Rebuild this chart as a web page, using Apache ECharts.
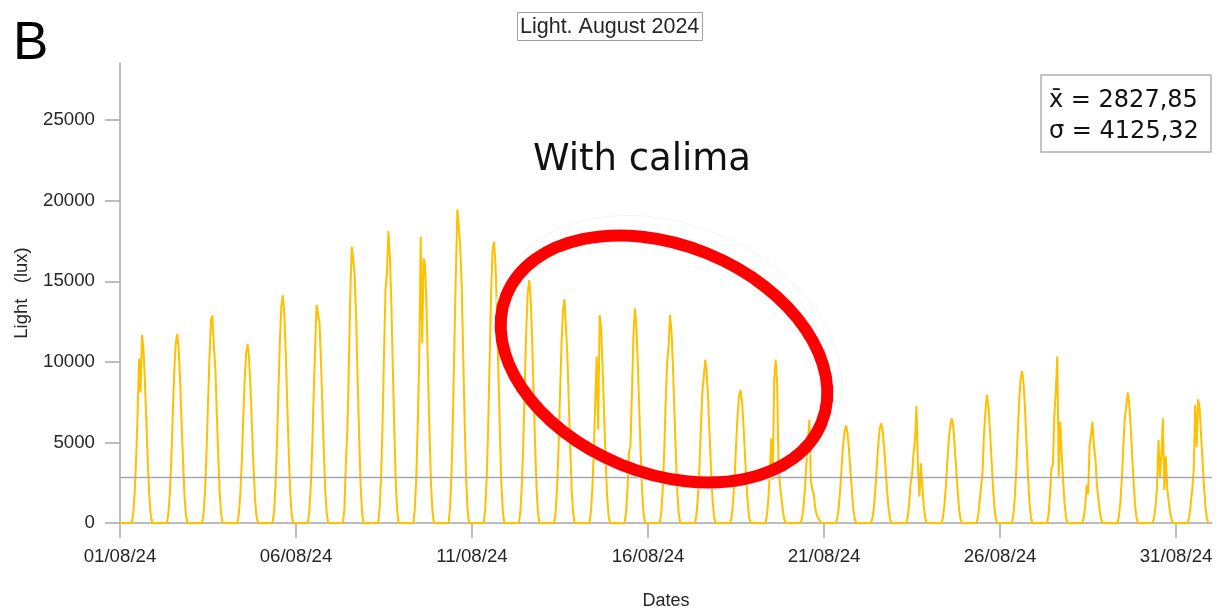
<!DOCTYPE html>
<html>
<head>
<meta charset="utf-8">
<script src="https://cdn.jsdelivr.net/npm/echarts@6/dist/echarts.min.js"></script>
<style>
  html, body { margin: 0; padding: 0; background: #fff; }
  #main { width: 1220px; height: 615px; }
</style>
</head>
<body>
<div id="main"></div>
<script>
// x tick labels (one every 5 days, starting 01/08/24)
const tickDays = [0, 5, 10, 15, 20, 25, 30];
const tickLabels = ["01/08/24", "06/08/24", "11/08/24", "16/08/24", "21/08/24", "26/08/24", "31/08/24"];
const yTicks = [0, 5000, 10000, 15000, 20000, 25000];

// hour of day for each reading below
const sampleHours = [8, 9, 10, 11, 12, 13, 14, 15, 16, 17, 18, 19, 20, 21, 22];

// light (lux) per day of August 2024
const lux = [
  [0, 580, 1870, 3970, 6800, 10200, 8100, 11670, 10800, 8750, 6200, 3700, 1600, 450, 0],
  [0, 590, 1880, 4000, 6800, 9400, 11150, 11740, 10800, 8800, 6200, 3750, 1650, 470, 0],
  [0, 640, 2060, 4380, 7460, 10300, 12600, 12870, 10950, 9650, 6820, 4120, 1800, 510, 0],
  [0, 550, 1780, 3770, 6440, 8880, 10550, 11100, 10210, 8330, 5880, 3550, 1550, 440, 0],
  [0, 710, 2260, 4810, 8200, 11320, 13440, 14150, 13020, 10610, 7500, 4530, 1980, 570, 0],
  [0, 680, 2160, 4600, 7850, 10820, 13530, 13000, 12450, 10150, 7170, 4330, 1890, 540, 0],
  [0, 900, 3800, 5800, 9700, 14250, 17150, 16400, 15300, 12700, 9000, 5500, 2400, 700, 0],
  [0, 900, 2900, 6150, 10500, 14500, 15500, 18120, 16500, 13600, 9600, 5800, 2550, 720, 0],
  [0, 890, 2850, 6050, 10300, 17770, 11160, 16430, 16000, 13300, 9400, 5700, 2500, 710, 0],
  [0, 970, 3110, 6620, 11300, 15600, 19460, 18390, 17050, 14600, 10300, 6200, 2700, 780, 0],
  [0, 870, 2790, 5940, 10100, 14250, 16940, 17460, 16060, 13100, 9250, 5590, 2440, 700, 0],
  [0, 750, 2410, 5130, 8750, 12060, 14330, 15080, 13870, 11310, 7990, 4830, 2110, 600, 0],
  [0, 690, 2220, 4720, 8050, 11100, 13190, 13880, 12190, 10410, 7360, 4440, 1940, 560, 0],
  [0, 650, 2070, 4390, 7490, 10330, 5790, 12910, 12090, 9680, 6840, 4130, 1810, 520, 0],
  [0, 670, 2130, 4340, 4800, 8000, 11470, 13330, 12270, 10000, 7070, 4270, 1870, 530, 0],
  [0, 650, 2070, 4390, 7490, 9920, 11000, 12910, 11880, 9680, 6840, 4130, 1810, 520, 0],
  [0, 510, 1620, 3440, 5870, 8100, 9090, 10120, 9310, 7590, 5360, 3240, 1420, 400, 0],
  [0, 410, 1320, 2810, 4790, 6610, 7850, 8260, 7600, 6200, 4380, 2640, 1160, 330, 0],
  [0, 450, 1450, 3080, 5250, 2690, 8880, 10120, 8700, 3500, 2300, 1500, 700, 200, 0],
  [0, 320, 1020, 2180, 3700, 5100, 6400, 2600, 2070, 1800, 900, 500, 300, 150, 0],
  [0, 300, 970, 2060, 3510, 4840, 5750, 6050, 5570, 4540, 3210, 1940, 850, 240, 0],
  [0, 310, 990, 2100, 3590, 4950, 5880, 6190, 5690, 4640, 3280, 1980, 870, 250, 0],
  [0, 360, 1160, 2470, 3000, 4330, 5200, 7270, 3500, 1640, 3700, 2300, 1000, 290, 0],
  [0, 330, 1040, 2210, 3770, 5200, 5980, 6500, 6100, 4880, 3450, 2080, 910, 260, 0],
  [0, 400, 1270, 2200, 3080, 5500, 6920, 7950, 7300, 5960, 4210, 2540, 1110, 320, 0],
  [0, 470, 1510, 3210, 5480, 7550, 8970, 9440, 8680, 7080, 5000, 3020, 1320, 380, 0],
  [0, 520, 1650, 3400, 3600, 6710, 8200, 10330, 2880, 6300, 4300, 2600, 1150, 330, 0],
  [0, 320, 1010, 2360, 1800, 4740, 5500, 6290, 4740, 4000, 2360, 1500, 700, 200, 0],
  [0, 410, 1300, 2750, 4700, 6480, 7230, 8100, 7450, 6080, 4290, 2590, 1130, 320, 0],
  [0, 330, 1040, 2210, 5150, 2880, 4200, 6500, 2050, 4120, 2100, 1300, 600, 180, 0],
  [0, 380, 1200, 2050, 3290, 7330, 4740, 7680, 7200, 5500, 3900, 2300, 1000, 300, 0]
];

const meanLux = 2827.85;
const sdLux = 4125.32;

// x = days since 01/08/24 00:00
const points = [[0, 0]];
lux.forEach((day, d) => {
  day.forEach((v, j) => points.push([d + sampleHours[j] / 24, v]));
});

const textColor = "#262626";
const axisColor = "#a8a8a8";

const chart = echarts.init(document.getElementById("main"));
const option = {
  animation: false,
  backgroundColor: "#fff",
  title: {
    text: "Light. August 2024",
    left: 517,
    top: 12,
    padding: [4, 3, 3, 3],
    borderColor: "#a0a0a0",
    borderWidth: 1,
    textStyle: {
      fontFamily: "Liberation Sans",
      fontSize: 21.5,
      fontWeight: "normal",
      color: textColor
    }
  },
  grid: {
    left: 120,
    right: 8,
    top: 63,
    bottom: 92
  },
  xAxis: {
    type: "value",
    min: 0,
    max: 31.02,
    interval: 5,
    name: "Dates",
    nameLocation: "middle",
    nameGap: 69,
    nameTextStyle: { fontFamily: "Liberation Sans", fontSize: 18, color: textColor },
    axisLine: { lineStyle: { color: axisColor, width: 1.5 } },
    axisTick: { length: 15, customValues: tickDays, lineStyle: { color: axisColor, width: 1.5 } },
    axisLabel: {
      customValues: tickDays,
      margin: 24,
      fontFamily: "Liberation Sans",
      fontSize: 18.7,
      color: textColor,
      formatter: v => tickLabels[tickDays.indexOf(Math.round(v))] || ""
    },
    splitLine: { show: false }
  },
  yAxis: {
    type: "value",
    min: 0,
    max: 28550,
    name: "Light   (lux)",
    nameLocation: "middle",
    nameGap: 89,
    nameTextStyle: { fontFamily: "Liberation Sans", fontSize: 18.5, color: textColor },
    axisLine: { show: true, lineStyle: { color: axisColor, width: 1.5 } },
    axisTick: { show: true, length: 15, customValues: yTicks, lineStyle: { color: axisColor, width: 1.5 } },
    axisLabel: {
      customValues: yTicks,
      margin: 25,
      fontFamily: "Liberation Sans",
      fontSize: 18.7,
      color: textColor,
      formatter: v => String(v)
    },
    splitLine: { show: false }
  },
  series: [
    {
      name: "Light",
      type: "line",
      data: points,
      showSymbol: false,
      sampling: "none",
      lineStyle: { color: "#FFC000", width: 2 },
      markLine: {
        silent: true,
        symbol: "none",
        label: { show: false },
        lineStyle: { color: "#a8a8a8", width: 1.3, type: "solid" },
        data: [{ yAxis: meanLux }]
      },
      z: 3
    }
  ],
  graphic: [
    {
      type: "text",
      left: 13,
      top: 18,
      style: { text: "B", fontFamily: "Liberation Sans", fontSize: 53, fill: "#000" }
    },
    {
      type: "text",
      x: 642,
      y: 160,
      style: {
        text: "With calima",
        fontFamily: "DejaVu Sans",
        fontSize: 37,
        fill: "#111",
        align: "center",
        verticalAlign: "middle"
      }
    },
    {
      type: "ellipse",
      x: 668,
      y: 352,
      rotation: -0.384,
      shape: { cx: 0, cy: 0, rx: 180, ry: 128 },
      style: { fill: null, stroke: "#f4f4f4", lineWidth: 1 },
      z: 9
    },
    {
      type: "ellipse",
      x: 664,
      y: 359,
      rotation: -0.384,
      shape: { cx: 0, cy: 0, rx: 170, ry: 114 },
      style: { fill: null, stroke: "#ff0000", lineWidth: 12 },
      z: 10
    },
    {
      type: "group",
      x: 1041,
      y: 75,
      children: [
        {
          type: "rect",
          shape: { x: 0, y: 0, width: 170, height: 77 },
          style: { fill: "#fff", stroke: "#b0b0b0", lineWidth: 1.5 }
        },
        {
          type: "text",
          x: 8,
          y: 26,
          style: {
            text: "x\u0304 = " + meanLux.toFixed(2).replace(".", ","),
            fontFamily: "DejaVu Sans",
            fontSize: 24,
            fill: "#111",
            verticalAlign: "middle"
          }
        },
        {
          type: "text",
          x: 8,
          y: 57,
          style: {
            text: "\u03c3 = " + sdLux.toFixed(2).replace(".", ","),
            fontFamily: "DejaVu Sans",
            fontSize: 24,
            fill: "#111",
            verticalAlign: "middle"
          }
        }
      ]
    }
  ]
};
chart.setOption(option);
</script>
</body>
</html>
